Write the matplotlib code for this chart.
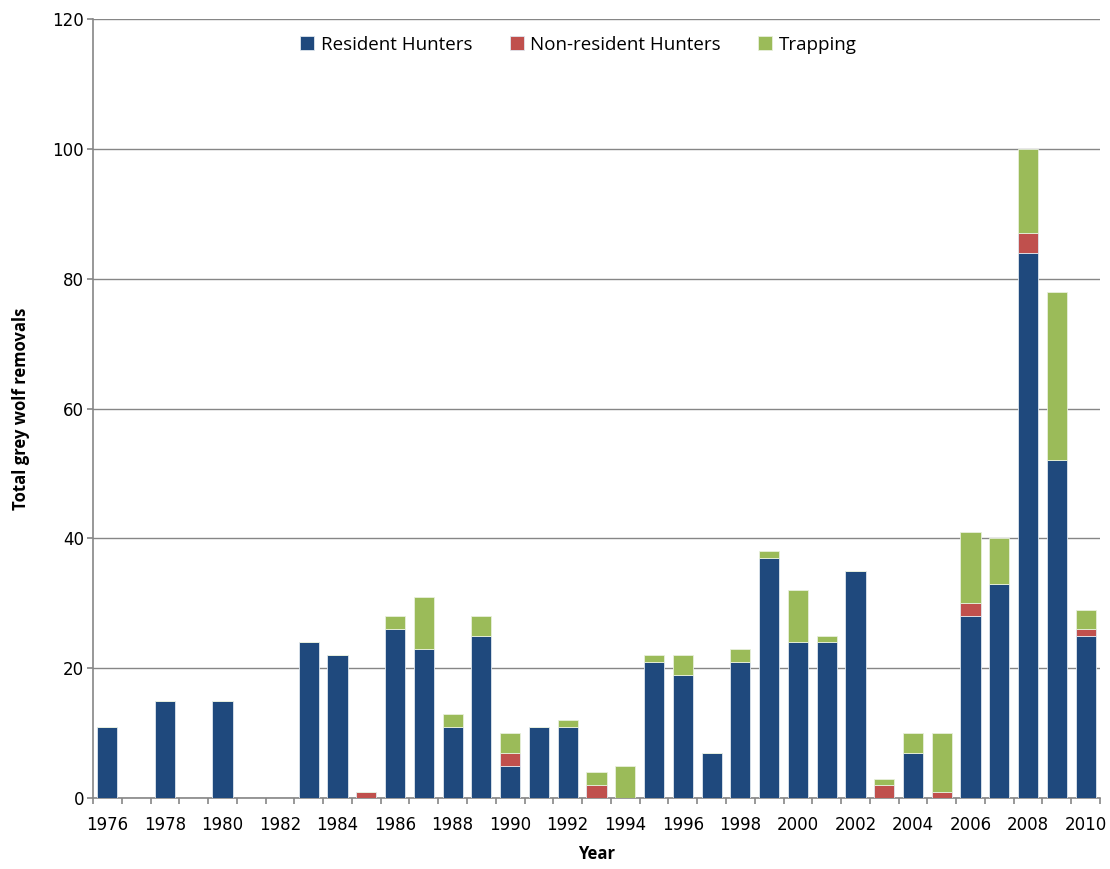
import matplotlib
matplotlib.use("Agg")
import matplotlib.pyplot as plt
import numpy as np

years = list(range(1976, 2011))
resident = [11, 0, 15, 0, 15, 0, 0, 24, 22, 0, 26, 23, 11, 25, 5, 11, 11, 0, 0, 21,
            19, 7, 21, 37, 24, 24, 35, 0, 7, 0, 28, 33, 84, 52, 25]
nonresident = [0, 0, 0, 0, 0, 0, 0, 0, 0, 1, 0, 0, 0, 0, 2, 0, 0, 2, 0, 0,
               0, 0, 0, 0, 0, 0, 0, 2, 0, 1, 2, 0, 3, 0, 1]
trapping = [0, 0, 0, 0, 0, 0, 0, 0, 0, 0, 2, 8, 2, 3, 3, 0, 1, 2, 5, 1,
            3, 0, 2, 1, 8, 1, 0, 1, 3, 9, 11, 7, 13, 26, 3]
series_names = ["Resident Hunters", "Non-resident Hunters", "Trapping"]
colors = ["#1F497D", "#C0504D", "#9BBB59"]

plt.rcParams['font.family'] = ['DejaVu Sans']

fig = plt.figure(figsize=(11.1, 8.69), dpi=100)
ax = fig.add_axes([93/1110, 1-798/869, (1100-93)/1110, (798-19)/869])

x = np.arange(len(years))
res = np.array(resident)
non = np.array(nonresident)
trp = np.array(trapping)
w = 0.7
edge = "#dfe6ee"
ax.bar(x, res, w, color=colors[0], edgecolor=edge, linewidth=0.6, label=series_names[0], zorder=3)
ax.bar(x, non, w, bottom=res, color=colors[1], edgecolor=edge, linewidth=0.6, label=series_names[1], zorder=3)
ax.bar(x, trp, w, bottom=res + non, color=colors[2], edgecolor="#e8f0dc", linewidth=0.6, label=series_names[2], zorder=3)

ax.set_xlim(-0.5, len(years) - 0.5)
ax.set_ylim(0, 120)
ax.set_yticks(range(0, 121, 20))
ax.yaxis.grid(True, color="#868686", linewidth=1.0, zorder=0)
ax.set_axisbelow(True)

ax.set_xticks(x[::2])
ax.set_xticklabels([str(y) for y in years[::2]])
ax.set_xticks(np.arange(-0.5, len(years), 1.0), minor=True)
ax.tick_params(axis='x', which='major', length=0, labelsize=12, pad=13, colors='black')
ax.tick_params(axis='x', which='minor', length=4.5, color="#868686", width=1.2)
ax.tick_params(axis='y', length=4.5, color="#868686", width=1.2, labelsize=12, pad=2)

for s in ['top', 'right']:
    ax.spines[s].set_visible(False)
for s in ['left', 'bottom']:
    ax.spines[s].set_color("#868686")
    ax.spines[s].set_linewidth(1.2)

lab_font = ['Open Sans', 'DejaVu Sans']
ax.set_xlabel("Year", fontsize=12, fontweight='bold', labelpad=8, family=lab_font)
ax.set_ylabel("Total grey wolf removals", fontsize=12, fontweight='bold', labelpad=16, family=lab_font)

leg = ax.legend(loc='upper center', bbox_to_anchor=(0.482, 1.0), ncol=3, frameon=False,
                prop={'family': lab_font, 'size': 13.5}, handlelength=0.75, handleheight=0.75,
                handletextpad=0.35, columnspacing=2.0)

fig.savefig("out.png", dpi=100)
